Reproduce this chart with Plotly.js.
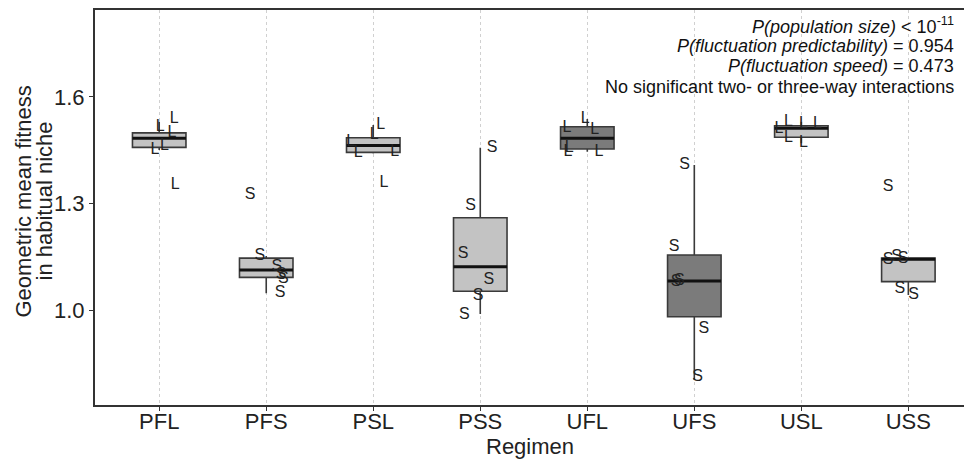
<!DOCTYPE html>
<html>
<head>
<meta charset="utf-8">
<script src="https://cdn.plot.ly/plotly-3.0.1.min.js"></script>
<style>html,body{margin:0;padding:0;background:#fff;}#chart{width:964px;height:462px;}</style>
</head>
<body>
<div id="chart"></div>
<script>
// ---- data ----
var regimens = ['PFL','PFS','PSL','PSS','UFL','UFS','USL','USS'];
var q1Values     = [1.458, 1.092, 1.444, 1.053, 1.4535, 0.981, 1.4865, 1.080];
var medianValues = [1.484, 1.113, 1.463, 1.122, 1.484, 1.082, 1.512, 1.143];
var q3Values     = [1.499, 1.146, 1.485, 1.260, 1.516, 1.155, 1.519, 1.146];
var lowerWhisker = [1.451, 1.047, 1.441, 0.989, 1.446, 0.803, 1.470, 1.042];
var upperWhisker = [1.530, 1.152, 1.521, 1.457, 1.538, 1.4085, 1.530, 1.148];
var darkBoxes    = ['UFL','UFS'];

// replicate values per regimen (six populations each)
var replicateValues = {
  PFL: [1.537, 1.516, 1.498, 1.451, 1.463, 1.352],
  PFS: [1.324, 1.152, 1.120, 1.099, 1.086, 1.047],
  PSL: [1.521, 1.493, 1.472, 1.441, 1.446, 1.357],
  PSS: [1.455, 1.293, 1.157, 1.0845, 1.039, 0.986],
  UFL: [1.538, 1.513, 1.507, 1.455, 1.445, 1.446],
  UFS: [1.4085, 1.178, 1.080, 1.083, 0.946, 0.810],
  USL: [1.530, 1.523, 1.523, 1.484, 1.470, 1.510],
  USS: [1.346, 1.141, 1.148, 1.143, 1.058, 1.042]
};
// horizontal jitter of each replicate label (category units)
var replicateJitter = {
  PFL: [0.14, 0.01, 0.12, -0.04, 0.05, 0.15],
  PFS: [-0.15, -0.06, 0.10, 0.14, 0.16, 0.13],
  PSL: [0.07, 0.01, -0.21, -0.14, 0.20, 0.10],
  PSS: [0.11, -0.09, -0.16, 0.08, -0.02, -0.15],
  UFL: [-0.02, -0.19, 0.07, -0.17, -0.18, 0.11],
  UFS: [-0.09, -0.19, -0.17, -0.14, 0.09, 0.03],
  USL: [-0.12, 0.02, 0.15, -0.12, 0.02, -0.21],
  USS: [-0.19, -0.19, -0.11, -0.05, -0.08, 0.05]
};
var yTicks = [1.0, 1.3, 1.6];
var yTickLabels = ['1.0', '1.3', '1.6'];
var xTitle = 'Regimen';
var yTitleLines = ['Geometric mean fitness', 'in habitual niche'];
var statLines = [
  '<i>P(population size)</i> &lt; 10<sup>-11</sup>',
  '<i>P(fluctuation predictability)</i> = 0.954',
  '<i>P(fluctuation speed)</i> = 0.473',
  'No significant two- or three-way interactions'
];

// ---- build traces ----
var FONT = '"Liberation Sans", Arial, sans-serif';
var traces = [];
regimens.forEach(function (r, i) {
  var dark = darkBoxes.indexOf(r) >= 0;
  traces.push({
    type: 'box', x: [i],
    q1: [q1Values[i]], median: [medianValues[i]], q3: [q3Values[i]],
    lowerfence: [lowerWhisker[i]], upperfence: [upperWhisker[i]],
    width: 0.5, whiskerwidth: 0, boxpoints: false,
    fillcolor: dark ? '#7b7b7b' : '#c3c3c3',
    line: {color: '#3a3a3a', width: 1.6},
    hoverinfo: 'skip', showlegend: false
  });
  // thick median bar
  traces.push({
    type: 'box', x: [i],
    q1: [medianValues[i]], median: [medianValues[i]], q3: [medianValues[i]],
    lowerfence: [medianValues[i]], upperfence: [medianValues[i]],
    width: 0.5, whiskerwidth: 0, boxpoints: false,
    fillcolor: 'rgba(0,0,0,0)',
    line: {color: '#111', width: 3},
    hoverinfo: 'skip', showlegend: false
  });
});
regimens.forEach(function (r, i) {
  var vals = replicateValues[r];
  var lab = r.charAt(r.length - 1);
  traces.push({
    type: 'scatter', mode: 'text',
    x: replicateJitter[r].map(function (j) { return i + j; }),
    y: vals,
    text: vals.map(function () { return lab; }),
    textposition: 'middle center',
    textfont: {family: FONT, size: 16, color: '#222'},
    hoverinfo: 'skip', showlegend: false, cliponaxis: false
  });
});

var annotations = [];
// y-axis title (two lines, tight spacing as in reference)
yTitleLines.forEach(function (t, k) {
  annotations.push({
    xref: 'paper', yref: 'paper', x: 0, y: 0.5, xanchor: 'center', yanchor: 'middle',
    xshift: k === 0 ? -72 : -51, yshift: 6, textangle: -90, showarrow: false,
    font: {family: FONT, size: 22, color: '#222'}, text: t
  });
});
// x-axis title
annotations.push({
  xref: 'paper', yref: 'paper', x: 0.5, y: 0, xanchor: 'center', yanchor: 'middle',
  yshift: -41, showarrow: false,
  font: {family: FONT, size: 22, color: '#222'}, text: xTitle
});
// statistics text, top right
statLines.forEach(function (t, k) {
  annotations.push({
    xref: 'paper', yref: 'paper', x: 1, y: 1, xanchor: 'right', yanchor: 'middle',
    xshift: -8, yshift: -(15 + 20.5 * k), showarrow: false, align: 'right',
    font: {family: FONT, size: 18, color: '#111'}, text: t
  });
});

var layout = {
  width: 964, height: 462,
  margin: {l: 95, r: 0, t: 10, b: 57},
  paper_bgcolor: '#fff', plot_bgcolor: '#fff',
  font: {family: FONT, color: '#222'},
  showlegend: false,
  xaxis: {
    range: [-0.6, 7.52],
    tickmode: 'array', tickvals: regimens.map(function (r, i) { return i; }), ticktext: regimens,
    tickfont: {size: 22, color: '#222'},
    ticklabelstandoff: -8,
    showgrid: true, gridcolor: '#d0d0d0', griddash: 'dot', gridwidth: 1,
    zeroline: false, showline: true, linecolor: '#333', linewidth: 2, mirror: true,
    ticks: 'outside', ticklen: 4, tickcolor: '#333'
  },
  yaxis: {
    range: [0.7324, 1.845],
    tickmode: 'array', tickvals: yTicks, ticktext: yTickLabels,
    tickfont: {size: 22, color: '#222'},
    showgrid: false, zeroline: false,
    showline: true, linecolor: '#333', linewidth: 2, mirror: true,
    ticks: 'outside', ticklen: 4, tickcolor: '#333'
  },
  annotations: annotations
};

Plotly.newPlot('chart', traces, layout, {staticPlot: true, displayModeBar: false});
</script>
</body>
</html>
